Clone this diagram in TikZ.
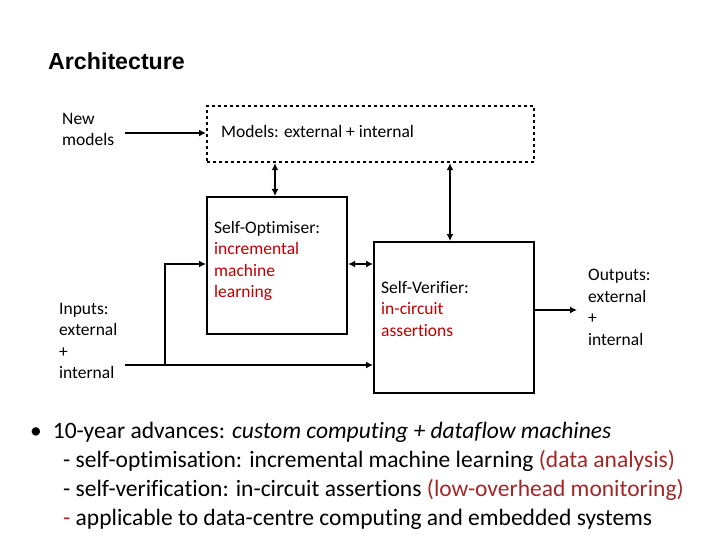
\documentclass[tikz,border=0pt]{standalone}
\usepackage{fontspec}
\setmainfont{Carlito}[Ligatures={NoCommon}]
\newfontfamily\arialf{Liberation Sans}
\usetikzlibrary{arrows.meta}
\definecolor{dred}{RGB}{192,0,0}
\definecolor{bred}{RGB}{160,40,40}
\begin{document}
\begin{tikzpicture}[x=1pt,y=-1pt,
  box/.style={draw,line width=2.2pt},
  lbl/.style={anchor=north west,inner sep=0pt,align=left,font=\fontsize{17.5}{21.5}\selectfont},
  con/.style={line width=2.2pt,-{Latex[length=7pt,width=7pt]}},
  dcon/.style={line width=2.2pt,{Latex[length=7pt,width=7pt]}-{Latex[length=7pt,width=7pt]}},
  bl/.style={anchor=west,inner sep=0pt,font=\fontsize{23.5}{28}\selectfont}]
\useasboundingbox (0,0) rectangle (720,540);
\node[anchor=west,inner sep=0pt,font=\arialf\bfseries\fontsize{23.2}{26}\selectfont] (title) at (48,61) {Architecture};
\node[box,dashed,minimum width=327pt,minimum height=56pt,anchor=north west] (models) at (206,105) {};
\node[lbl,anchor=west] (mt) at (221,131) {Models: external + internal};
\node[box,minimum width=140pt,minimum height=137pt,anchor=north west] (opt) at (206,196) {};
\node[box,minimum width=160pt,minimum height=151pt,anchor=north west] (ver) at (373,241) {};
\node[lbl] (newm) at (62,113) {New\\models};
\node[lbl] (inp) at (59,303) {Inputs:\\external\\+\\internal};
\node[lbl] (optt) at (214,221) {Self-Optimiser:\\\textcolor{dred}{incremental}\\\textcolor{dred}{machine}\\\textcolor{dred}{learning}};
\node[lbl] (vert) at (381,281) {Self-Verifier:\\\textcolor{dred}{in-circuit}\\\textcolor{dred}{assertions}};
\node[lbl] (outt) at (588,269) {Outputs:\\external\\+\\internal};
\coordinate (nmA) at (125,133);
\coordinate (inA) at (125,365);
\coordinate (br) at (165,365);
\coordinate (outE) at (577,310);
\draw[con] (nmA) -- (nmA -| models.west);
\draw[dcon] (models.south -| 275,0) -- (opt.north -| 275,0);
\draw[dcon] (models.south -| 450,0) -- (ver.north -| 450,0);
\draw[dcon] (opt.east |- 0,264) -- (ver.west |- 0,264);
\draw[con] (inA) -- (inA -| ver.west);
\draw[con] (br) -- (br |- 0,264) -- (opt.west |- 0,264);
\draw[con] (ver.east |- outE) -- (outE);
\node[bl] (b1) at (30,432) {•\hspace{11pt}10-year advances: \textit{custom computing + dataflow machines}};
\node[bl] (b2) at (63,461) {- self-optimisation: incremental machine learning \textcolor{bred}{(data analysis)}};
\node[bl] (b3) at (63,490) {- self-verification: in-circuit assertions \textcolor{bred}{(low-overhead monitoring)}};
\node[bl] (b4) at (63,519) {\textcolor{bred}{-} applicable to data-centre computing and embedded systems};
\end{tikzpicture}
\end{document}
